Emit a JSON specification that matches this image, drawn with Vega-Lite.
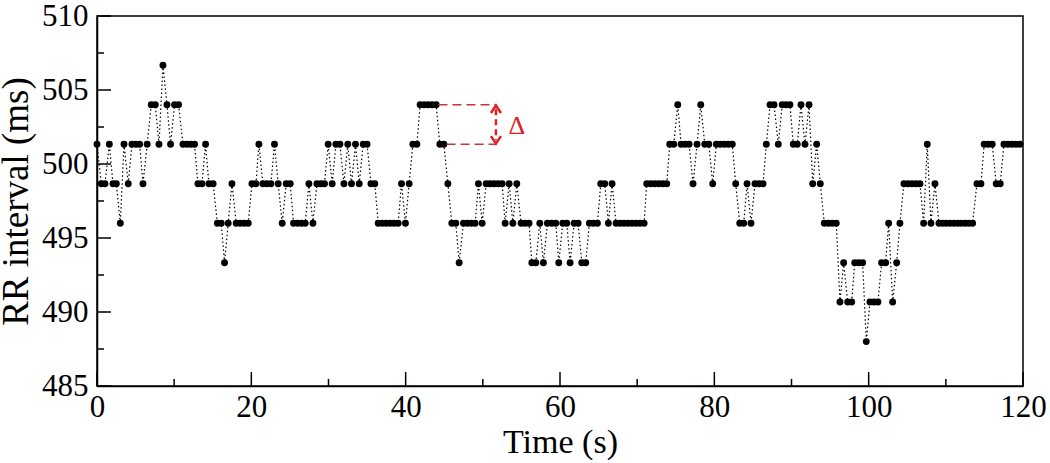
{
  "$schema": "https://vega.github.io/schema/vega-lite/v6.json",
  "width": 926,
  "height": 370,
  "autosize": "none",
  "padding": {"left": 97, "top": 16, "right": 27, "bottom": 77},
  "background": "white",
  "config": {"view": {"stroke": "black", "strokeWidth": 1.5}, "font": "Liberation Serif"},
  "datasets": {
    "rr": [
      {"t":0.0,"rr":501.33},{"t":0.56,"rr":498.67},{"t":1.03,"rr":498.67},{"t":1.6,"rr":501.33},{"t":2.07,"rr":498.67},{"t":2.5,"rr":498.67},{"t":3.02,"rr":496},{"t":3.5,"rr":501.33},{"t":4.05,"rr":498.67},{"t":4.53,"rr":501.33},{"t":5.05,"rr":501.33},{"t":5.52,"rr":501.33},{"t":5.96,"rr":498.67},{"t":6.5,"rr":501.33},{"t":7.03,"rr":504},{"t":7.55,"rr":504},{"t":8.03,"rr":501.33},{"t":8.55,"rr":506.67},{"t":9.07,"rr":504},{"t":9.53,"rr":501.33},{"t":10.05,"rr":504},{"t":10.57,"rr":504},{"t":11.14,"rr":501.33},{"t":11.66,"rr":501.33},{"t":12.18,"rr":501.33},{"t":12.64,"rr":501.33},{"t":13.08,"rr":498.67},{"t":13.6,"rr":498.67},{"t":14.07,"rr":501.33},{"t":14.5,"rr":498.67},{"t":15.05,"rr":498.67},{"t":15.6,"rr":496},{"t":16.1,"rr":496},{"t":16.53,"rr":493.33},{"t":17.0,"rr":496},{"t":17.49,"rr":498.67},{"t":18.04,"rr":496},{"t":18.56,"rr":496},{"t":19.08,"rr":496},{"t":19.6,"rr":496},{"t":20.08,"rr":498.67},{"t":20.6,"rr":498.67},{"t":20.98,"rr":501.33},{"t":21.5,"rr":498.67},{"t":22.0,"rr":498.67},{"t":22.54,"rr":498.67},{"t":23.0,"rr":501.33},{"t":23.48,"rr":498.67},{"t":24.0,"rr":496},{"t":24.52,"rr":498.67},{"t":25.04,"rr":498.67},{"t":25.47,"rr":496},{"t":25.99,"rr":496},{"t":26.5,"rr":496},{"t":26.98,"rr":496},{"t":27.46,"rr":498.67},{"t":27.98,"rr":496},{"t":28.5,"rr":498.67},{"t":29.0,"rr":498.67},{"t":29.48,"rr":498.67},{"t":29.96,"rr":501.33},{"t":30.48,"rr":498.67},{"t":30.96,"rr":501.33},{"t":31.48,"rr":501.33},{"t":32.0,"rr":498.67},{"t":32.5,"rr":501.33},{"t":32.98,"rr":498.67},{"t":33.5,"rr":501.33},{"t":33.98,"rr":498.67},{"t":34.5,"rr":501.33},{"t":35.0,"rr":501.33},{"t":35.5,"rr":498.67},{"t":36.0,"rr":498.67},{"t":36.44,"rr":496},{"t":36.96,"rr":496},{"t":37.48,"rr":496},{"t":37.99,"rr":496},{"t":38.51,"rr":496},{"t":39.03,"rr":496},{"t":39.46,"rr":498.67},{"t":39.97,"rr":496},{"t":40.45,"rr":498.67},{"t":40.93,"rr":501.33},{"t":41.45,"rr":501.33},{"t":41.88,"rr":504},{"t":42.4,"rr":504},{"t":42.92,"rr":504},{"t":43.44,"rr":504},{"t":43.95,"rr":504},{"t":44.43,"rr":501.33},{"t":44.95,"rr":501.33},{"t":45.47,"rr":498.67},{"t":45.98,"rr":496},{"t":46.5,"rr":496},{"t":46.93,"rr":493.33},{"t":47.49,"rr":496},{"t":48.0,"rr":496},{"t":48.52,"rr":496},{"t":49.0,"rr":496},{"t":49.43,"rr":498.67},{"t":49.91,"rr":496},{"t":50.43,"rr":498.67},{"t":50.95,"rr":498.67},{"t":51.46,"rr":498.67},{"t":51.98,"rr":498.67},{"t":52.5,"rr":498.67},{"t":52.89,"rr":496},{"t":53.41,"rr":498.67},{"t":53.89,"rr":496},{"t":54.4,"rr":498.67},{"t":54.96,"rr":496},{"t":55.47,"rr":496},{"t":55.99,"rr":496},{"t":56.35,"rr":493.33},{"t":56.87,"rr":493.33},{"t":57.38,"rr":496},{"t":57.85,"rr":493.33},{"t":58.37,"rr":496},{"t":58.92,"rr":496},{"t":59.45,"rr":496},{"t":59.84,"rr":493.33},{"t":60.36,"rr":496},{"t":60.88,"rr":496},{"t":61.31,"rr":493.33},{"t":61.83,"rr":496},{"t":62.35,"rr":496},{"t":62.82,"rr":493.33},{"t":63.34,"rr":493.33},{"t":63.81,"rr":496},{"t":64.33,"rr":496},{"t":64.85,"rr":496},{"t":65.28,"rr":498.67},{"t":65.8,"rr":498.67},{"t":66.27,"rr":496},{"t":66.75,"rr":498.67},{"t":67.27,"rr":496},{"t":67.79,"rr":496},{"t":68.3,"rr":496},{"t":68.82,"rr":496},{"t":69.34,"rr":496},{"t":69.86,"rr":496},{"t":70.38,"rr":496},{"t":70.9,"rr":496},{"t":71.24,"rr":498.67},{"t":71.76,"rr":498.67},{"t":72.28,"rr":498.67},{"t":72.8,"rr":498.67},{"t":73.32,"rr":498.67},{"t":73.83,"rr":498.67},{"t":74.22,"rr":501.33},{"t":74.74,"rr":501.33},{"t":75.26,"rr":504},{"t":75.69,"rr":501.33},{"t":76.21,"rr":501.33},{"t":76.73,"rr":501.33},{"t":77.24,"rr":498.67},{"t":77.76,"rr":501.33},{"t":78.24,"rr":504},{"t":78.76,"rr":501.33},{"t":79.28,"rr":501.33},{"t":79.79,"rr":498.67},{"t":80.26,"rr":501.33},{"t":80.78,"rr":501.33},{"t":81.3,"rr":501.33},{"t":81.81,"rr":501.33},{"t":82.33,"rr":501.33},{"t":82.77,"rr":498.67},{"t":83.29,"rr":496},{"t":83.81,"rr":496},{"t":84.24,"rr":498.67},{"t":84.75,"rr":496},{"t":85.27,"rr":498.67},{"t":85.79,"rr":498.67},{"t":86.31,"rr":498.67},{"t":86.74,"rr":501.33},{"t":87.22,"rr":504},{"t":87.74,"rr":504},{"t":88.29,"rr":501.33},{"t":88.8,"rr":504},{"t":89.3,"rr":504},{"t":89.8,"rr":504},{"t":90.23,"rr":501.33},{"t":90.75,"rr":501.33},{"t":91.23,"rr":504},{"t":91.75,"rr":501.33},{"t":92.27,"rr":504},{"t":92.75,"rr":498.67},{"t":93.26,"rr":501.33},{"t":93.73,"rr":498.67},{"t":94.25,"rr":496},{"t":94.77,"rr":496},{"t":95.28,"rr":496},{"t":95.8,"rr":496},{"t":96.28,"rr":490.67},{"t":96.76,"rr":493.33},{"t":97.28,"rr":490.67},{"t":97.8,"rr":490.67},{"t":98.19,"rr":493.33},{"t":98.7,"rr":493.33},{"t":99.22,"rr":493.33},{"t":99.69,"rr":488},{"t":100.17,"rr":490.67},{"t":100.69,"rr":490.67},{"t":101.2,"rr":490.67},{"t":101.68,"rr":493.33},{"t":102.2,"rr":493.33},{"t":102.59,"rr":496},{"t":103.11,"rr":490.67},{"t":103.63,"rr":493.33},{"t":104.05,"rr":496},{"t":104.57,"rr":498.67},{"t":105.09,"rr":498.67},{"t":105.61,"rr":498.67},{"t":106.13,"rr":498.67},{"t":106.65,"rr":498.67},{"t":107.12,"rr":496},{"t":107.59,"rr":501.33},{"t":108.07,"rr":496},{"t":108.59,"rr":498.67},{"t":109.11,"rr":496},{"t":109.6,"rr":496},{"t":110.08,"rr":496},{"t":110.57,"rr":496},{"t":111.05,"rr":496},{"t":111.53,"rr":496},{"t":112.0,"rr":496},{"t":112.5,"rr":496},{"t":112.99,"rr":496},{"t":113.47,"rr":496},{"t":114.03,"rr":498.67},{"t":114.55,"rr":498.67},{"t":114.97,"rr":501.33},{"t":115.49,"rr":501.33},{"t":116.01,"rr":501.33},{"t":116.53,"rr":498.67},{"t":117.05,"rr":498.67},{"t":117.53,"rr":501.33},{"t":118.05,"rr":501.33},{"t":118.57,"rr":501.33},{"t":119.09,"rr":501.33},{"t":119.6,"rr":501.33}
    ],
    "xmajor": [{"v": 0}, {"v": 20}, {"v": 40}, {"v": 60}, {"v": 80}, {"v": 100}, {"v": 120}],
    "xminor": [{"v": 10}, {"v": 30}, {"v": 50}, {"v": 70}, {"v": 90}, {"v": 110}],
    "ymajor": [{"v": 485}, {"v": 490}, {"v": 495}, {"v": 500}, {"v": 505}, {"v": 510}],
    "yminor": [{"v": 487.5}, {"v": 492.5}, {"v": 497.5}, {"v": 502.5}, {"v": 507.5}],
    "dash": [{"x0": 44.25, "x1": 51.8, "y": 504}, {"x0": 45.3, "x1": 51.8, "y": 501.33}],
    "arrow": [{"x": 51.7, "y0": 503.7, "y1": 501.6}],
    "heads": [{"x": 51.7, "y": 503.95, "dir": "up"}, {"x": 51.7, "y": 501.38, "dir": "down"}],
    "label": [{"x": 54.4, "y": 502.55, "text": "Δ"}]
  },
  "layer": [
    {
      "data": {"name": "rr"},
      "mark": {"type": "line", "color": "black", "strokeWidth": 1.2, "strokeDash": [1.5, 2.5]},
      "encoding": {
        "x": {"field": "t", "type": "quantitative", "scale": {"domain": [0, 120], "nice": false},
          "axis": {"values": [0,20,40,60,80,100,120], "ticks": false,
            "domainColor": "black", "domainWidth": 1.5,
            "labelFont": "Liberation Serif", "labelFontSize": 31, "labelColor": "black", "labelPadding": 6,
            "labelFlush": false, "labelOverlap": false, "labelBound": false,
            "title": "Time (s)", "titleFont": "Liberation Serif", "titleFontSize": 34, "titleFontWeight": "normal",
            "titleColor": "black", "titlePadding": 3, "grid": false}},
        "y": {"field": "rr", "type": "quantitative", "scale": {"domain": [485, 510], "nice": false, "zero": false},
          "axis": {"values": [485,490,495,500,505,510], "ticks": false,
            "domainColor": "black", "domainWidth": 1.5,
            "labelFont": "Liberation Serif", "labelFontSize": 31, "labelColor": "black", "labelPadding": 9,
            "labelFlush": false, "labelOverlap": false, "labelBound": false,
            "title": "RR interval (ms)", "titleFont": "Liberation Serif", "titleFontSize": 37, "titleFontWeight": "normal",
            "titleColor": "black", "titlePadding": 6, "grid": false}}
      }
    },
    {
      "data": {"name": "xmajor"},
      "mark": {"type": "tick", "orient": "vertical", "color": "black", "size": 14, "thickness": 1.5, "yOffset": -7, "opacity": 1},
      "encoding": {"x": {"field": "v", "type": "quantitative"}, "y": {"datum": 485, "type": "quantitative"}}
    },
    {
      "data": {"name": "xminor"},
      "mark": {"type": "tick", "orient": "vertical", "color": "black", "size": 7, "thickness": 1.5, "yOffset": -3.5, "opacity": 1},
      "encoding": {"x": {"field": "v", "type": "quantitative"}, "y": {"datum": 485, "type": "quantitative"}}
    },
    {
      "data": {"name": "ymajor"},
      "mark": {"type": "tick", "orient": "horizontal", "color": "black", "size": 14, "thickness": 1.5, "xOffset": 7, "opacity": 1},
      "encoding": {"y": {"field": "v", "type": "quantitative"}, "x": {"datum": 0, "type": "quantitative"}}
    },
    {
      "data": {"name": "yminor"},
      "mark": {"type": "tick", "orient": "horizontal", "color": "black", "size": 7, "thickness": 1.5, "xOffset": 3.5, "opacity": 1},
      "encoding": {"y": {"field": "v", "type": "quantitative"}, "x": {"datum": 0, "type": "quantitative"}}
    },
    {
      "data": {"name": "rr"},
      "mark": {"type": "circle", "color": "black", "size": 48, "opacity": 1},
      "encoding": {
        "x": {"field": "t", "type": "quantitative"},
        "y": {"field": "rr", "type": "quantitative"}
      }
    },
    {
      "data": {"name": "dash"},
      "mark": {"type": "rule", "color": "#c83535", "strokeDash": [9, 5], "strokeWidth": 1.5},
      "encoding": {
        "x": {"field": "x0", "type": "quantitative"},
        "x2": {"field": "x1"},
        "y": {"field": "y", "type": "quantitative"}
      }
    },
    {
      "data": {"name": "arrow"},
      "mark": {"type": "rule", "color": "#e02020", "strokeDash": [6, 4], "strokeWidth": 2.5},
      "encoding": {
        "x": {"field": "x", "type": "quantitative"},
        "y": {"field": "y0", "type": "quantitative"},
        "y2": {"field": "y1"}
      }
    },
    {
      "data": {"name": "heads"},
      "mark": {"type": "point", "filled": false, "color": "#e02020", "strokeWidth": 2.5, "size": 100, "opacity": 1},
      "encoding": {
        "x": {"field": "x", "type": "quantitative"},
        "y": {"field": "y", "type": "quantitative"},
        "shape": {"field": "dir", "type": "nominal", "scale": {"domain": ["up", "down"], "range": ["M-1,1.5L0,0L1,1.5", "M-1,-1.5L0,0L1,-1.5"]}, "legend": null}
      }
    },
    {
      "data": {"name": "label"},
      "mark": {"type": "text", "color": "#e02020", "fontSize": 26, "font": "Liberation Serif", "baseline": "middle", "align": "center"},
      "encoding": {
        "x": {"field": "x", "type": "quantitative"},
        "y": {"field": "y", "type": "quantitative"},
        "text": {"field": "text"}
      }
    }
  ]
}
